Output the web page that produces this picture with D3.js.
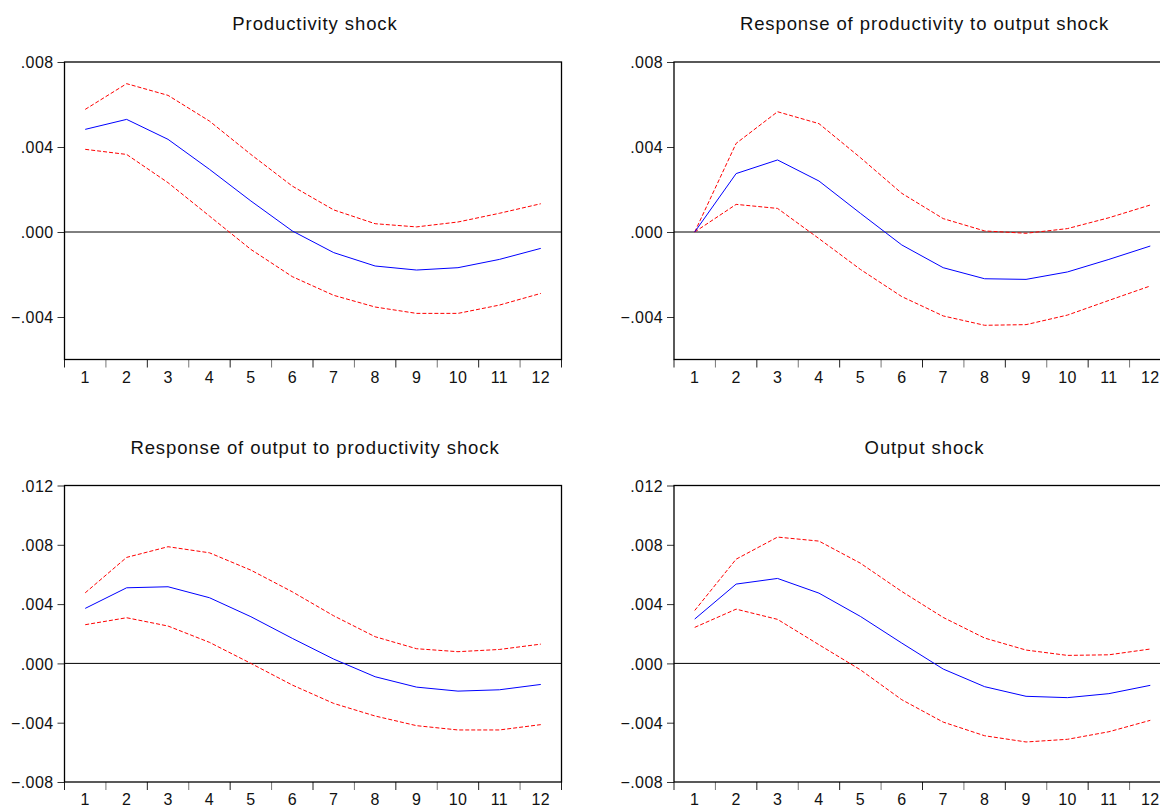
<!DOCTYPE html>
<html>
<head>
<meta charset="utf-8">
<script src="https://cdn.jsdelivr.net/npm/d3@7"></script>
<style>
    body { margin: 0; background: #fff; }
    svg { display: block; font-family: "Liberation Sans", Arial, sans-serif; }
    .title { font-size: 18.5px; letter-spacing: 0.9px; fill: #111; }
    .tick text { font-size: 16px; letter-spacing: 0.4px; fill: #111; }
</style>
</head>
<body>
<svg id="chart" width="1160" height="807"></svg>
<script>
// periods on the x axis
const periods = [1, 2, 3, 4, 5, 6, 7, 8, 9, 10, 11, 12];

// Productivity shock
const prodShock = [0.00483, 0.00530, 0.00436, 0.00295, 0.00146, 0.00005, -0.00097, -0.00160, -0.00179, -0.00168, -0.00129, -0.00077];
const prodShockUp = [0.00577, 0.00698, 0.00643, 0.00522, 0.00365, 0.00216, 0.00104, 0.00039, 0.00024, 0.00047, 0.00088, 0.00133];
const prodShockLo = [0.00389, 0.00365, 0.00232, 0.00075, -0.00082, -0.00210, -0.00298, -0.00353, -0.00383, -0.00383, -0.00344, -0.00289];

// Response of productivity to output shock
const prodToOut = [0, 0.00275, 0.00339, 0.00240, 0.00088, -0.00061, -0.00168, -0.00220, -0.00223, -0.00188, -0.00129, -0.00066];
const prodToOutUp = [0, 0.00417, 0.00566, 0.00510, 0.00350, 0.00182, 0.00063, 0.00005, -0.00006, 0.00016, 0.00067, 0.00127];
const prodToOutLo = [0, 0.00130, 0.00111, -0.00031, -0.00176, -0.00304, -0.00395, -0.00439, -0.00436, -0.00391, -0.00322, -0.00254];

// Response of output to productivity shock
const outToProd = [0.00371, 0.00510, 0.00517, 0.00443, 0.00315, 0.00169, 0.00029, -0.00090, -0.00160, -0.00187, -0.00178, -0.00142];
const outToProdUp = [0.00476, 0.00715, 0.00787, 0.00746, 0.00629, 0.00483, 0.00321, 0.00180, 0.00099, 0.00079, 0.00094, 0.00130];
const outToProdLo = [0.00261, 0.00308, 0.00252, 0.00142, 0.00000, -0.00146, -0.00270, -0.00355, -0.00420, -0.00449, -0.00449, -0.00413];

// Output shock
const outShock = [0.00299, 0.00535, 0.00573, 0.00474, 0.00317, 0.00137, -0.00038, -0.00157, -0.00222, -0.00231, -0.00204, -0.00148];
const outShockUp = [0.00357, 0.00703, 0.00852, 0.00825, 0.00676, 0.00485, 0.00310, 0.00171, 0.00090, 0.00054, 0.00058, 0.00097];
const outShockLo = [0.00243, 0.00366, 0.00297, 0.00126, -0.00043, -0.00245, -0.00396, -0.00488, -0.00530, -0.00512, -0.00461, -0.00384];

const topTicks = [-0.004, 0, 0.004, 0.008];
const bottomTicks = [-0.008, -0.004, 0, 0.004, 0.008, 0.012];

const panels = [
    { title: "Productivity shock", left: 64.5, top: 62, bottom: 359.5, domain: [-0.006, 0.008], ticks: topTicks,
      mid: prodShock, up: prodShockUp, lo: prodShockLo },
    { title: "Response of productivity to output shock", left: 674, top: 62, bottom: 359.5, domain: [-0.006, 0.008], ticks: topTicks,
      mid: prodToOut, up: prodToOutUp, lo: prodToOutLo },
    { title: "Response of output to productivity shock", left: 64.5, top: 485.5, bottom: 782, domain: [-0.008, 0.012], ticks: bottomTicks,
      mid: outToProd, up: outToProdUp, lo: outToProdLo },
    { title: "Output shock", left: 674, top: 485.5, bottom: 782, domain: [-0.008, 0.012], ticks: bottomTicks,
      mid: outShock, up: outShockUp, lo: outShockLo }
];

const plotWidth = 497;
const svg = d3.select("#chart");

// ".004" style labels, no leading zero
const fmt = v => {
    if (Math.abs(v) < 1e-9) return ".000";
    return d3.format(".3f")(v).replace("0.", ".");
};

panels.forEach(p => {
    const g = svg.append("g");

    const x = d3.scaleBand()
        .domain(periods)
        .range([p.left, p.left + plotWidth])
        .padding(0);

    const y = d3.scaleLinear()
        .domain(p.domain)
        .range([p.bottom, p.top]);

    // title
    g.append("text")
        .attr("class", "title")
        .attr("x", p.left + plotWidth / 2 + 2)
        .attr("y", p.top - 32)
        .attr("text-anchor", "middle")
        .text(p.title);

    // y axis
    const yAxis = d3.axisLeft(y)
        .tickValues(p.ticks)
        .tickFormat(fmt)
        .tickSize(7)
        .tickPadding(4);
    const ya = g.append("g")
        .attr("transform", `translate(${p.left},0)`)
        .call(yAxis);
    ya.attr("font-size", null).attr("font-family", null);
    ya.select(".domain").remove();
    ya.selectAll(".tick line").attr("stroke", "#333");
    ya.selectAll(".tick text").attr("dy", "0.35em");

    // x axis: ticks at band boundaries, labels at band centres
    const xa = g.append("g").attr("class", "tick").attr("transform", `translate(0,${p.bottom})`);
    const edges = periods.map(d => x(d)).concat([x(periods[periods.length - 1]) + x.bandwidth()]);
    xa.selectAll("line.edge")
        .data(edges)
        .enter()
        .append("line")
        .attr("class", "edge")
        .attr("x1", d => d).attr("x2", d => d)
        .attr("y1", 0).attr("y2", 8)
        .attr("stroke", (d, i) => i % 2 ? "#777" : "#222");
    xa.selectAll("text")
        .data(periods)
        .enter()
        .append("text")
        .attr("x", d => x(d) + x.bandwidth() / 2)
        .attr("y", 23)
        .attr("text-anchor", "middle")
        .text(d => d);

    // frame
    g.append("rect")
        .attr("x", p.left)
        .attr("y", p.top)
        .attr("width", plotWidth)
        .attr("height", p.bottom - p.top)
        .attr("fill", "none")
        .attr("stroke", "#000")
        .attr("stroke-width", 1.3);

    // zero line
    g.append("line")
        .attr("x1", p.left).attr("x2", p.left + plotWidth)
        .attr("y1", y(0)).attr("y2", y(0))
        .attr("stroke", "#000")
        .attr("stroke-width", 1);

    const line = d3.line()
        .x((d, i) => x(periods[i]) + x.bandwidth() / 2)
        .y(d => y(d));

    [p.up, p.lo].forEach(band => {
        g.append("path")
            .datum(band)
            .attr("d", line)
            .attr("fill", "none")
            .attr("stroke", "#ff0000")
            .attr("stroke-width", 1)
            .attr("stroke-dasharray", "4,2");
    });

    g.append("path")
        .datum(p.mid)
        .attr("d", line)
        .attr("fill", "none")
        .attr("stroke", "#0000ff")
        .attr("stroke-width", 1);
});
</script>
</body>
</html>
